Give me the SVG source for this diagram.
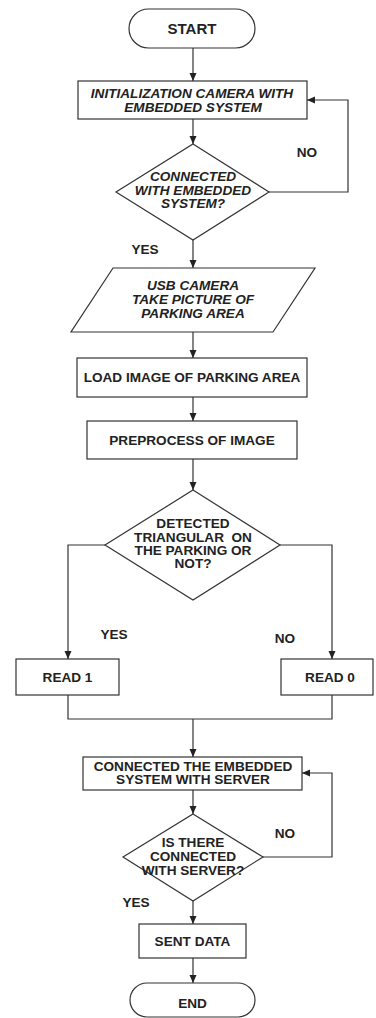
<svg xmlns="http://www.w3.org/2000/svg" width="376" height="1018" viewBox="0 0 376 1018">
<defs>
<marker id="ah" markerUnits="userSpaceOnUse" markerWidth="8" markerHeight="8" viewBox="0 0 8 8" refX="8" refY="4" orient="auto">
<path d="M0,0.5 L8,4 L0,7.5 Z" fill="#222"/>
</marker>
</defs>
<style>
.s{fill:#fff;stroke:#333;stroke-width:1.2}
.c{fill:none;stroke:#333;stroke-width:1.2}
text{font-family:"Liberation Sans",Arial,sans-serif;font-weight:bold;font-size:13.6px;fill:#222;text-anchor:middle}
.i{font-style:italic}
</style>
<rect width="376" height="1018" fill="#fff"/>
<g id="connectors">
<path class="c" d="M193,48 V81" marker-end="url(#ah)"/>
<path class="c" d="M193,119 V144" marker-end="url(#ah)"/>
<path class="c" d="M269,192 H348 V100 H307" marker-end="url(#ah)"/>
<path class="c" d="M193,240 V268" marker-end="url(#ah)"/>
<path class="c" d="M193,332 V358" marker-end="url(#ah)"/>
<path class="c" d="M193,397 V421" marker-end="url(#ah)"/>
<path class="c" d="M193,459 V490" marker-end="url(#ah)"/>
<path class="c" d="M105,545 H68 V659" marker-end="url(#ah)"/>
<path class="c" d="M280,545 H332 V659" marker-end="url(#ah)"/>
<path class="c" d="M68,695 V719 H332 V695"/>
<path class="c" d="M193,719 V757" marker-end="url(#ah)"/>
<path class="c" d="M193,790 V814" marker-end="url(#ah)"/>
<path class="c" d="M263,857 H332 V773 H302" marker-end="url(#ah)"/>
<path class="c" d="M193,901 V924" marker-end="url(#ah)"/>
<path class="c" d="M193,958 V983" marker-end="url(#ah)"/>
<text x="307" y="157">NO</text>
<text x="145" y="254">YES</text>
<text x="114" y="639">YES</text>
<text x="285" y="643">NO</text>
<text x="285" y="838">NO</text>
<text x="136" y="907">YES</text>
</g>
<g id="start">
<rect class="s" x="129" y="9" width="126" height="39" rx="19.5"/>
<text x="192" y="33.5" style="font-size:15px">START</text>
</g>
<g id="init">
<rect class="s" x="78" y="81" width="229" height="38"/>
<text class="i" x="192" y="97.5">INITIALIZATION CAMERA WITH</text>
<text class="i" x="193" y="111.5">EMBEDDED SYSTEM</text>
</g>
<g id="check-camera">
<polygon class="s" points="193,144 269,192 193,240 116,192"/>
<text class="i" x="193" y="180.5">CONNECTED</text>
<text class="i" x="193" y="195">WITH EMBEDDED</text>
<text class="i" x="193" y="208">SYSTEM?</text>
</g>
<g id="take-picture">
<polygon class="s" points="113,268 315,268 273,332 71,332"/>
<text class="i" x="193" y="289.5">USB CAMERA</text>
<text class="i" x="193" y="303.5">TAKE PICTURE OF</text>
<text class="i" x="193" y="317.5">PARKING AREA</text>
</g>
<g id="load">
<rect class="s" x="77" y="358" width="230" height="39"/>
<text x="192" y="382">LOAD IMAGE OF PARKING AREA</text>
</g>
<g id="preprocess">
<rect class="s" x="87" y="421" width="210" height="38"/>
<text x="192" y="445">PREPROCESS OF IMAGE</text>
</g>
<g id="detect">
<polygon class="s" points="193,490 280,545 193,600 105,545"/>
<text x="193" y="527.5">DETECTED</text>
<text x="193" y="541.5" xml:space="preserve">TRIANGULAR  ON</text>
<text x="193" y="555">THE PARKING OR</text>
<text x="193" y="568">NOT?</text>
</g>
<g id="read1">
<rect class="s" x="16" y="659" width="103" height="36"/>
<text x="67.5" y="681.5">READ 1</text>
</g>
<g id="read0">
<rect class="s" x="281" y="659" width="92" height="36"/>
<text x="330" y="681.5">READ 0</text>
</g>
<g id="connect-server">
<rect class="s" x="83" y="757" width="219" height="33"/>
<text x="193" y="770.5">CONNECTED THE EMBEDDED</text>
<text x="193" y="783.5">SYSTEM WITH SERVER</text>
</g>
<g id="check-server">
<polygon class="s" points="193,814 263,857 193,901 123,857"/>
<text x="193" y="846.5">IS THERE</text>
<text x="193" y="861">CONNECTED</text>
<text x="193" y="874.5">WITH SERVER?</text>
</g>
<g id="send">
<rect class="s" x="139" y="924" width="107" height="34"/>
<text x="192.5" y="946">SENT DATA</text>
</g>
<g id="end">
<rect class="s" x="130" y="983" width="125" height="34" rx="17"/>
<text x="192.5" y="1007.5">END</text>
</g>
</svg>
